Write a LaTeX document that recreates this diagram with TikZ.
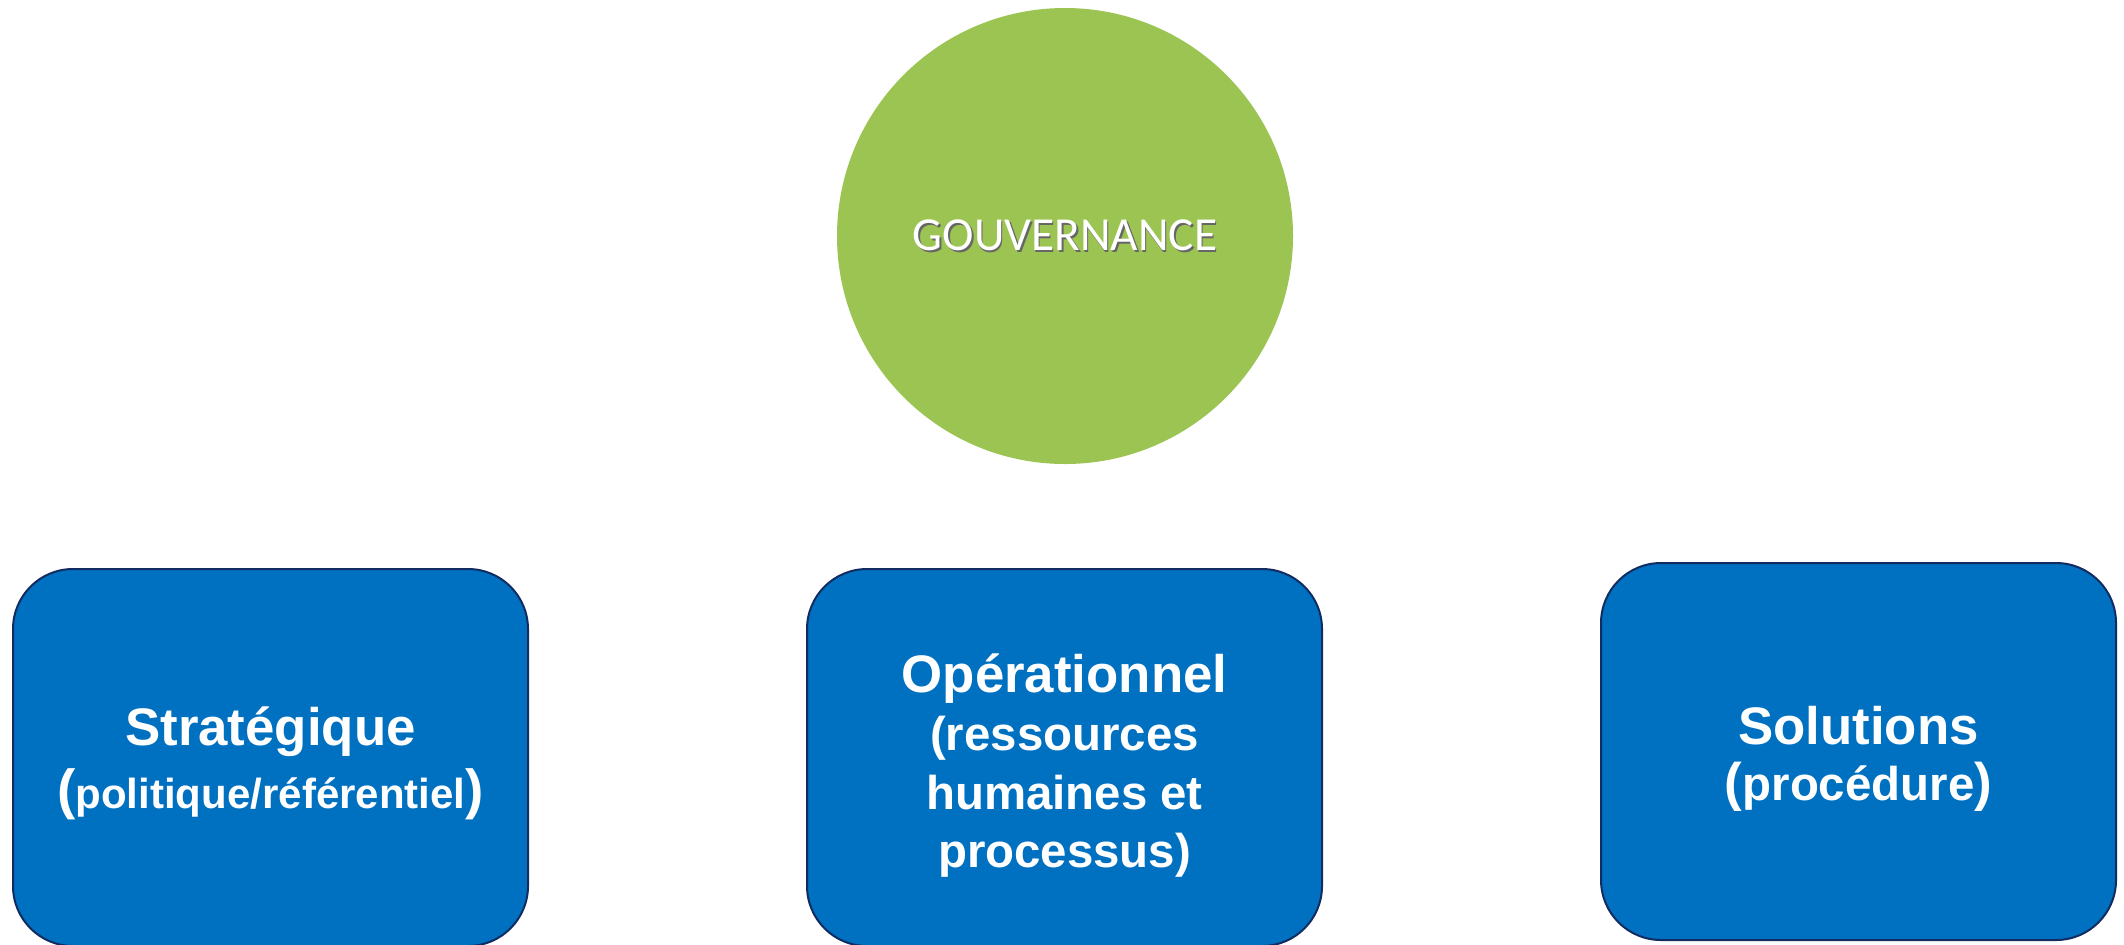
\documentclass[tikz,border=0pt]{standalone}
\usepackage{fontspec}
\setmainfont{Liberation Sans}
\newfontfamily\govfont{Carlito}

\definecolor{govgreen}{RGB}{155,196,82}
\definecolor{boxblue}{RGB}{0,112,192}
\definecolor{boxline}{RGB}{18,44,98}

% white text with a soft dark shadow
\newcommand{\shadowtxt}[1]{\rlap{\kern0.8pt\raisebox{-0.8pt}{\color{black!60}#1}}#1}

\begin{document}
\begin{tikzpicture}[x=0.5pt, y=-0.5pt,
    level/.style={draw=boxline, line width=1pt, fill=boxblue, rounded corners=30pt,
        minimum width=257.5pt, minimum height=188.5pt, inner sep=0pt},
    leveltext/.style={text=white, align=center, inner sep=0pt,
        font=\bfseries\fontsize{26.4}{29.3}\selectfont}]
    \useasboundingbox (0,0) rectangle (2124,944);

    % Governance circle
    \node[circle, fill=govgreen, minimum size=228pt, inner sep=0pt, text=white,
        font=\govfont\fontsize{23.7}{28}\selectfont] (gouv) at (1065,236) {\shadowtxt{GOUVERNANCE}};

    % Strategic level
    \node[level, label={[leveltext, yshift=-3pt, font=\bfseries\fontsize{26.4}{31.5}\selectfont]center:{Stratégique\\
        {\fontsize{27.5}{31.5}\selectfont(}{\fontsize{21}{31.5}\selectfont politique/référentiel}{\fontsize{27.5}{31.5}\selectfont)}}}]
        (strat) at (270.5,757.5) {};

    % Operational level
    \node[level, label={[leveltext, yshift=-4pt]center:{Opérationnel\\
        {\fontsize{23.7}{29.3}\selectfont (ressources}\\
        {\fontsize{23.7}{29.3}\selectfont humaines et}\\
        {\fontsize{23.7}{29.3}\selectfont processus)}}}]
        (oper) at (1064.5,757.5) {};

    % Solutions level
    \node[level, label={[leveltext, yshift=-3.5pt, font=\bfseries\fontsize{26.4}{28}\selectfont]center:{Solutions\\
        {\fontsize{26.5}{28}\selectfont(}{\fontsize{23.7}{28}\selectfont procédure}{\fontsize{26.5}{28}\selectfont)}}}]
        (sol) at (1858.5,751.5) {};
\end{tikzpicture}
\end{document}
